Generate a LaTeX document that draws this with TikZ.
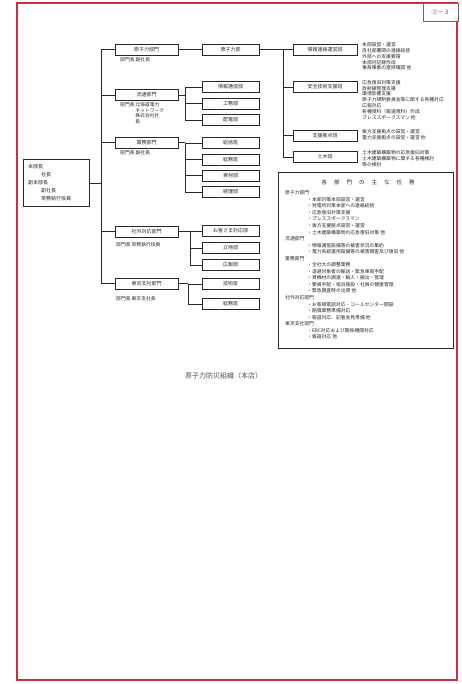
\documentclass[tikz,border=0pt]{standalone}
\usepackage{fontspec}
\setmainfont{Noto Sans CJK JP}
\definecolor{frame}{RGB}{205,45,65}
\definecolor{ink}{RGB}{40,40,40}
\tikzset{
  box/.style={draw=ink, line width=0.9pt, fill=white, minimum width=#1, minimum height=11pt,
    inner sep=0pt, font=\fontsize{5}{6}\selectfont, text=ink},
  box/.default=63pt,
  conn/.style={draw=ink, line width=0.8pt},
  small/.style={font=\fontsize{4.8}{5.8}\selectfont, text=ink, inner sep=0pt, align=left},
  tasks/.style={font=\fontsize{4.8}{6.55}\selectfont, text=ink, inner sep=0pt, align=left},
}
\begin{document}
\begin{tikzpicture}[x=1pt, y=-1pt]
\useasboundingbox (0,0) rectangle (461,684);
\fill[white] (0,0) rectangle (461,684);
% frame
\draw[frame, line width=1.2pt] (17,3) rectangle (457,680);
\node[draw=ink!70, line width=0.5pt, fill=white, minimum width=35pt, minimum height=18pt, inner sep=0pt,
  font=\fontsize{6}{7}\selectfont, text=ink!80] (tag) at (440.5,12.5) {②－３};

% chief
\node[draw=ink, line width=0.9pt, minimum width=66pt, minimum height=44pt, text width=56pt,
  inner sep=5pt, align=left, font=\fontsize{5}{8}\selectfont, text=ink] (chief) at (56,183)
  {本部長\\\hspace*{13pt}社長\\副本部長\\\hspace*{13pt}副社長\\\hspace*{13pt}常務執行役員};

% departments
\node[box] (d1) at (146.5,49.5) {原子力部門};
\node[box] (d2) at (146.5,95) {流通部門};
\node[box] (d3) at (146.5,142.5) {業務部門};
\node[box] (d4) at (146.5,231.5) {社外対応部門};
\node[box] (d5) at (146.5,283.5) {東京支社部門};

\node[small, anchor=west] (l1) at (120,60) {部門長 副社長};
\node[small, anchor=north west] (l2) at (120,102)
  {\begin{tabular}{@{}l@{\,}l@{}}部門長&北海道電力\\&ネットワーク\\&株式会社社\\&長\end{tabular}};
\node[small, anchor=west] (l3) at (120,152.5) {部門長 副社長};
\node[small, anchor=west] (l4) at (116,245) {部門長 常務執行役員};
\node[small, anchor=west] (l5) at (116,298.5) {部門長 東京支社長};

% second column
\node[box=57pt] (s1) at (230.5,49.5) {原子力部};
\node[box=57pt] (s21) at (230.5,87) {情報通信部};
\node[box=57pt] (s22) at (230.5,103.5) {工務部};
\node[box=57pt] (s23) at (230.5,120) {配電部};
\node[box=57pt] (s31) at (230.5,143) {総括班};
\node[box=57pt] (s32) at (230.5,159.5) {総務班};
\node[box=57pt] (s33) at (230.5,175.5) {資材部};
\node[box=57pt] (s34) at (230.5,192) {経理部};
\node[box=57pt] (s41) at (230.5,231) {お客さま対応部};
\node[box=57pt] (s42) at (230.5,248) {立地部};
\node[box=57pt] (s43) at (230.5,265) {広報部};
\node[box=57pt] (s51) at (230.5,284) {技術班};
\node[box=57pt] (s52) at (230.5,304) {総務班};

% third column
\node[box=64pt] (t1) at (325,49.5) {情報連絡運営班};
\node[box=64pt] (t2) at (325,87) {安全技術支援班};
\node[box=64pt] (t3) at (325,135.5) {支援拠点班};
\node[box=64pt] (t4) at (325,157) {土木班};

% right notes
\node[small, anchor=north west] (n1) at (362,42.5)
  {本部設営・運営\\自社部署間の連絡総括\\外部への支援要請\\本部内記録作成\\事故事象の進捗確認 他};
\node[small, anchor=north west] (n2) at (362,80)
  {応急復旧対策支援\\放射線管理支援\\環境影響支援\\原子力規制委員会等に関する各種対応\\広報対応\\各種資料（報道資料）作成\\プレススポークスマン 他};
\node[small, anchor=north west] (n3) at (362,129.5)
  {後方支援拠点の設営・運営\\電力支援拠点の設営・運営 他};
\node[small, anchor=north west] (n4) at (362,150.5)
  {土木建築構築物の応急復旧対策\\土木建築構築物に関する各種検討\\等の検討};

% bus coordinates
\coordinate (b0) at (101,0);
\coordinate (b2) at (185,0);
\coordinate (b3) at (185,0);
\coordinate (b4) at (190,0);
\coordinate (b5) at (188,0);
\coordinate (b1) at (283,0);

% connectors
\draw[conn] (chief.east) -- (chief.east -| b0);
\draw[conn] (d1.west) -| (b0 |- d5.west) -- (d5.west);
\draw[conn] (d2.west) -- (d2.west -| b0);
\draw[conn] (d3.west) -- (d3.west -| b0);
\draw[conn] (d4.west) -- (d4.west -| b0);

\draw[conn] (d1.east) -- (s1.west);
\draw[conn] (d2.east) -- (d2.east -| b2);
\draw[conn] (s21.west) -| (b2 |- s23.west) -- (s23.west);
\draw[conn] (s22.west) -- (s22.west -| b2);
\draw[conn] (d3.east) -- (d3.east -| b3);
\draw[conn] (s31.west) -| (b3 |- s34.west) -- (s34.west);
\draw[conn] (s32.west) -- (s32.west -| b3);
\draw[conn] (s33.west) -- (s33.west -| b3);
\draw[conn] (d4.east) -- (d4.east -| b4);
\draw[conn] (s41.west) -| (b4 |- s43.west) -- (s43.west);
\draw[conn] (s42.west) -- (s42.west -| b4);
\draw[conn] (d5.east) -- (d5.east -| b5);
\draw[conn] (s51.west) -| (b5 |- s52.west) -- (s52.west);

\draw[conn] (s1.east) -- (t1.west);
\draw[conn] (t1.west) -| (b1 |- t4.west) -- (t4.west);
\draw[conn] (t2.west) -- (t2.west -| b1);
\draw[conn] (t3.west) -- (t3.west -| b1);

% task box
\node[draw=ink, line width=0.8pt, minimum width=175pt, minimum height=176pt, inner sep=0pt] (taskbox) at (365.5,260) {};
\node[font=\fontsize{5.5}{6}\selectfont, text=ink, inner sep=0pt] (tasktitle) at (368,182)
  {各\hspace{7pt}部\hspace{7pt}門\hspace{7pt}の\hspace{7pt}主\hspace{7pt}な\hspace{7pt}任\hspace{7pt}務};
\node[tasks, anchor=north west] (tasklist) at (285,190.5)
  {原子力部門\\
   \hspace*{22pt}・本部対策本部設営・運営\\
   \hspace*{22pt}・発電所対策本部への連絡総括\\
   \hspace*{22pt}・応急復旧対策支援\\
   \hspace*{22pt}・プレススポークスマン\\
   \hspace*{22pt}・後方支援拠点設営・運営\\
   \hspace*{22pt}・土木建築構築物の応急復旧対策 他\\
   流通部門\\
   \hspace*{22pt}・情報通信設備等の被害状況の集約\\
   \hspace*{22pt}・電力系統運用設備等の被害調査及び復旧 他\\
   業務部門\\
   \hspace*{22pt}・全社大の調整業務\\
   \hspace*{22pt}・退避対象者の輸送・緊急車両手配\\
   \hspace*{22pt}・資機材の調達・輸入・搬出・管理\\
   \hspace*{22pt}・要員手配・宿泊施設・社員の健康管理\\
   \hspace*{22pt}・緊急調査時の出資 他\\
   社外対応部門\\
   \hspace*{22pt}・お客様電話対応・コールセンター開設\\
   \hspace*{22pt}・賠償業務準備対応\\
   \hspace*{22pt}・報道対応、記者会見準備 他\\
   東京支社部門\\
   \hspace*{22pt}・ERC対応および関係機関対応\\
   \hspace*{22pt}・報道対応 他};

% caption
\node[font=\fontsize{7}{8}\selectfont, text=ink!80, inner sep=0pt] (caption) at (223.5,376) {原子力防災組織（本店）};
\end{tikzpicture}
\end{document}
